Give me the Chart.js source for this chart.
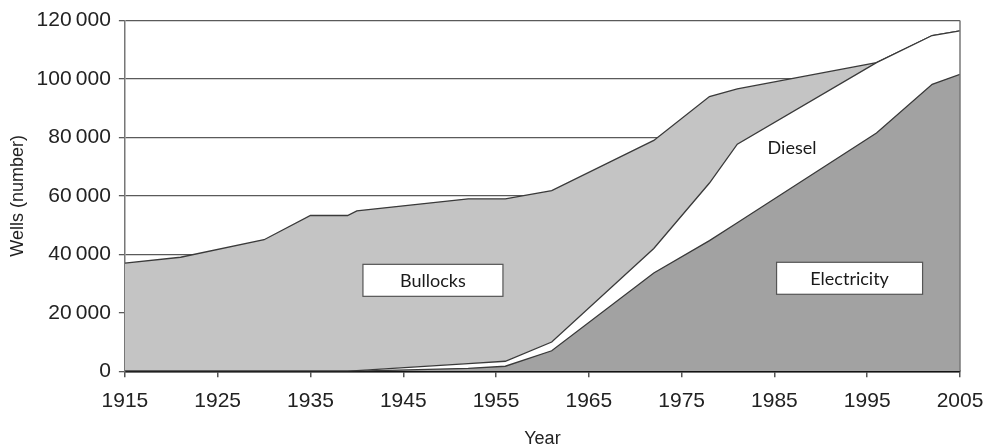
<!DOCTYPE html>
<html>
<head>
<title>Wells by power source</title>
<style>
  body { margin: 0; background: #fff; }
  .chart-container { position: relative; width: 984px; height: 447px; }
</style>
</head>
<body>
<div class="chart-container">
<canvas id="mycanvas" width="984" height="447"></canvas>
</div>

<script src="https://cdn.jsdelivr.net/npm/chart.js@4.4.0/dist/chart.umd.min.js"></script>
<script>
// values (number of wells per layer)
var years       = [1915, 1921, 1930, 1935, 1939, 1940, 1952, 1956, 1961, 1972, 1978, 1981, 1996, 2002, 2005];
var electricity = [0, 0, 0, 0, 0, 0, 1000, 1700, 7000, 33600, 44700, 50800, 81500, 98200, 101600];
var diesel      = [0, 0, 0, 0, 0, 200, 1600, 1700, 3000, 8400, 19700, 26900, 24100, 16700, 14900];
var bullocks    = [37000, 39000, 45000, 53300, 53300, 54700, 56400, 55600, 51800, 37000, 29600, 18900, 0, 0, 0];

var xTicks = [1915, 1925, 1935, 1945, 1955, 1965, 1975, 1985, 1995, 2005];

// text labels placed in data units
var labels = [
  { text: "Bullocks",    x: 1948.2, y: 31100, box: true },
  { text: "Electricity", x: 1993.1, y: 31800, box: true },
  { text: "Diesel",      x: 1986.9, y: 76700, box: false }
];

function pts(vals) {
  return years.map(function(yr, i) { return { x: yr, y: vals[i] }; });
}

var lineCol = "#3a3a3a";
var axisFont = "'Liberation Sans', Arial, sans-serif";

var labelPlugin = {
  id: "labels",
  afterDatasetsDraw: function(chart) {
    var ctx = chart.ctx, xs = chart.scales.x, ys = chart.scales.y, a = chart.chartArea;
    ctx.save();
    // right border of the plot
    ctx.strokeStyle = "#777";
    ctx.lineWidth = 1.5;
    ctx.beginPath();
    ctx.moveTo(a.right, a.top);
    ctx.lineTo(a.right, a.bottom);
    ctx.stroke();

    ctx.font = "18px Lato, 'Open Sans', sans-serif";
    ctx.textAlign = "center";
    ctx.textBaseline = "middle";
    labels.forEach(function(l) {
      var px = xs.getPixelForValue(l.x), py = ys.getPixelForValue(l.y);
      if (l.box) {
        var w = l.text == "Bullocks" ? 140 : 146, h = 32;
        ctx.fillStyle = "#fff";
        ctx.fillRect(px - w / 2, py - h / 2, w, h);
        ctx.strokeStyle = "#555";
        ctx.lineWidth = 1.2;
        ctx.strokeRect(px - w / 2, py - h / 2, w, h);
      }
      ctx.fillStyle = "#1a1a1a";
      ctx.fillText(l.text, px, py + 1);
    });
    ctx.restore();
  }
};

var ctx = document.getElementById("mycanvas");

new Chart(ctx, {
  type: "line",
  data: {
    datasets: [
      {
        label: "Electricity",
        data: pts(electricity),
        fill: "origin",
        backgroundColor: "#a2a2a2",
        borderColor: lineCol,
        borderWidth: 1.3,
        pointRadius: 0,
        tension: 0
      },
      {
        label: "Diesel",
        data: pts(diesel),
        fill: "-1",
        backgroundColor: "#ffffff",
        borderColor: lineCol,
        borderWidth: 1.3,
        pointRadius: 0,
        tension: 0
      },
      {
        label: "Bullocks",
        data: pts(bullocks),
        fill: "-1",
        backgroundColor: "#c4c4c4",
        borderColor: lineCol,
        borderWidth: 1.3,
        pointRadius: 0,
        tension: 0
      }
    ]
  },
  options: {
    responsive: false,
    animation: false,
    layout: { padding: { left: 4, right: 0, top: 9, bottom: -3 } },
    plugins: {
      legend: { display: false },
      tooltip: { enabled: false }
    },
    scales: {
      x: {
        type: "linear",
        min: 1915,
        max: 2005,
        afterBuildTicks: function(axis) {
          axis.ticks = xTicks.map(function(v) { return { value: v }; });
        },
        afterFit: function(axis) {
          axis.paddingRight = 24;
        },
        grid: { drawOnChartArea: false, drawTicks: true, tickLength: 6, color: "#555", lineWidth: 1.5 },
        border: { display: true, color: "#111", width: 2.5 },
        ticks: {
          color: "#222",
          font: { family: axisFont, size: 21 },
          padding: 11,
          maxRotation: 0,
          callback: function(v) { return String(v); }
        },
        title: {
          display: true,
          text: "Year",
          color: "#222",
          font: { family: axisFont, size: 18 },
          padding: { top: 4, bottom: 0 }
        }
      },
      y: {
        stacked: true,
        min: 0,
        max: 120000,
        ticks: {
          stepSize: 20000,
          color: "#222",
          padding: 8,
          font: { family: axisFont, size: 21 },
          callback: function(v) { return String(v).replace(/\B(?=(\d{3})+(?!\d))/g, "\u2009"); }
        },
        grid: { color: "#5a5a5a", lineWidth: 1.3, drawTicks: true, tickLength: 6 },
        border: { display: true, color: "#777", width: 1.5 },
        title: {
          display: true,
          text: "Wells (number)",
          color: "#222",
          font: { family: axisFont, size: 18 },
          padding: { top: 3, bottom: 0 }
        }
      }
    }
  },
  plugins: [labelPlugin]
});
</script>
</body>
</html>
